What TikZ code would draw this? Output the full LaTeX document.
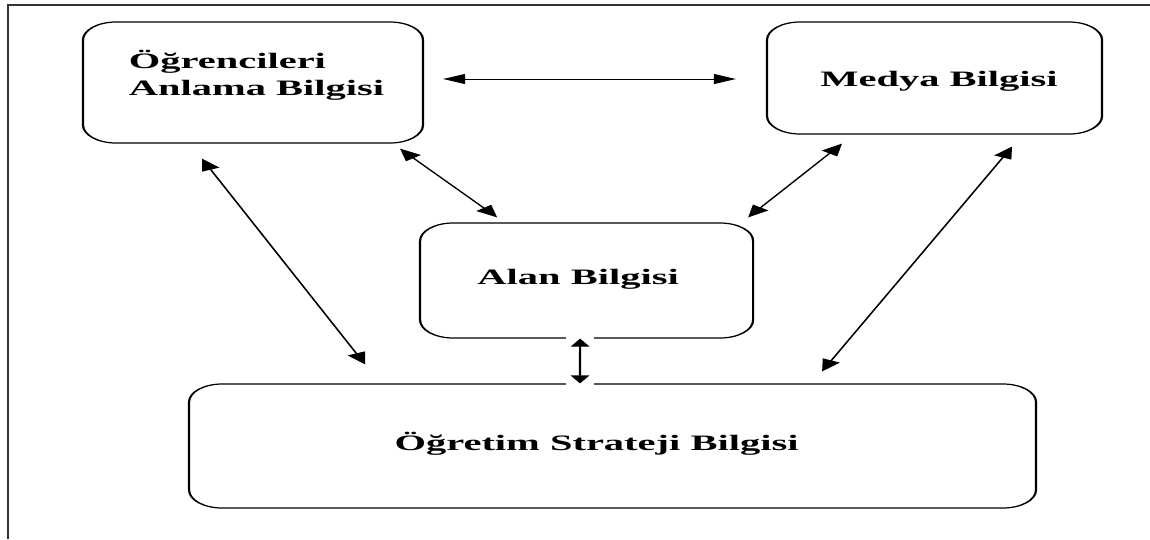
\documentclass[tikz,border=0pt]{standalone}
\usepackage{fontspec}
\setmainfont{Liberation Serif}
\usetikzlibrary{arrows.meta}
\newcommand\boxtext[3]{\raisebox{#2}[0pt][0pt]{\makebox[0pt]{\kern#1\kern#1#3}}}
\begin{document}
\begin{tikzpicture}[x=1pt,y=1pt,
  kbox/.style={draw, line width=1.2pt, rounded corners=18pt, inner sep=0pt,
    font=\bfseries\fontsize{22}{27}\selectfont},
  arr/.style={line width=1pt, {Triangle[length=12pt,width=10pt]}-{Triangle[length=12pt,width=10pt]}},
  varr/.style={line width=1.2pt, {Triangle[length=8pt,width=10pt]}-{Triangle[length=8pt,width=10pt]}},
  frameline/.style={draw=black!80, line width=1.3pt}]
\useasboundingbox (0,0) rectangle (1150,-539);
\draw[frameline] (8,-539) -- (8,-5) -- (1150,-5);
\begin{scope}[transform canvas={xscale=1.84}]
  \node[kbox, minimum width=184.8pt, minimum height=121pt] (b1) at (137.5,-82.5)
    {\boxtext{1.9pt}{14.5pt}{\begin{tabular}[t]{@{}l@{}}Öğrencileri\\Anlama Bilgisi\end{tabular}}};
  \node[kbox, minimum width=182.1pt, minimum height=112pt] (b2) at (507.9,-78)
    {\boxtext{2.4pt}{-8pt}{Medya Bilgisi}};
  \node[kbox, minimum width=181pt, minimum height=115pt] (b3) at (318.8,-280.5)
    {\boxtext{-4.6pt}{-3.5pt}{Alan Bilgisi}};
  \node[kbox, minimum width=460.3pt, minimum height=124pt] (b4) at (332.9,-446)
    {\boxtext{-8.7pt}{-4pt}{Öğretim Strateji Bilgisi}};
  % connectors
  \draw[arr] ([xshift=10.3pt,yshift=3.5pt]b1.east) -- ([xshift=-16.3pt,yshift=-1pt]b2.west);
  \draw[arr] ([xshift=79.9pt,yshift=-5pt]b1.south) -- ([xshift=-48.6pt,yshift=5pt]b3.north);
  \draw[arr] ([xshift=-50.3pt,yshift=-9pt]b2.south) -- ([xshift=87.8pt,yshift=5pt]b3.north);
  \draw[arr] ([xshift=42.1pt,yshift=-12pt]b2.south) -- ([xshift=113.9pt,yshift=12pt]b4.north);
  \draw[arr] ([xshift=-27.7pt,yshift=-15pt]b1.south) -- ([xshift=-134.5pt,yshift=19pt]b4.north);
  \coordinate (v1) at ([xshift=-3.5pt]b3.south);
  \coordinate (v2) at ([xshift=-17.7pt]b4.north);
  \fill[white] ([xshift=-7.6pt,yshift=-2pt]v1) rectangle ([xshift=7.6pt,yshift=2pt]v1);
  \fill[white] ([xshift=-7.6pt,yshift=-2pt]v2) rectangle ([xshift=7.6pt,yshift=2pt]v2);
  \draw[varr] (v1) -- (v2);
\end{scope}
\end{tikzpicture}
\end{document}
